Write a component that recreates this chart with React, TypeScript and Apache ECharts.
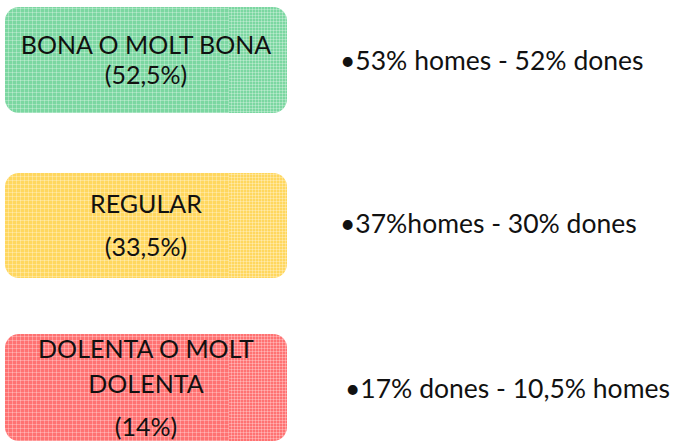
import React, { useEffect, useRef } from "react";
import * as echarts from "echarts";

// ---- data ----
const categories: string[] = ["BONA O MOLT BONA", "REGULAR", "DOLENTA O MOLT DOLENTA"];
const boxLabelLines: string[][] = [
  ["BONA O MOLT BONA"],
  ["REGULAR"],
  ["DOLENTA O MOLT", "DOLENTA"],
];
const shares: number[] = [52.5, 33.5, 14];
const detailTexts: string[] = [
  "•53% homes - 52% dones",
  "•37%homes - 30% dones",
  "•17% dones - 10,5% homes",
];

const fmtPct = (v: number) => "(" + String(v).replace(".", ",") + "%)";

// ---- styles ----
const FONT_FAMILY = "Lato, 'Open Sans', sans-serif";
const baseColors = ["#7bd7a1", "#ffd75e", "#ff7272"];

const TILE = 12;

function makeOverlay(fine: boolean): string {
  const c = document.createElement("canvas");
  c.width = TILE;
  c.height = TILE;
  const ctx = c.getContext("2d")!;
  ctx.clearRect(0, 0, TILE, TILE);
  ctx.fillStyle = "rgba(255,255,255,0.28)";
  const step = fine ? 3 : 4;
  for (let k = 0; k < TILE; k += step) {
    ctx.fillRect(k, 0, 1, TILE);
    ctx.fillRect(0, k, TILE, 1);
  }
  return c.toDataURL();
}

export default function App() {
  const ref = useRef<HTMLDivElement>(null);
  useEffect(() => {
    if (!ref.current) return;
    const chart = echarts.init(ref.current, undefined, { renderer: "svg" });

    const boxLeft = 5;
    const boxRight = 287;
    const splitX = 229;
    const boxTops = [7, 173, 334];
    const boxBottoms = [113, 278, 441];
    const lineBaselines = [
      [52, 82],
      [211, 254],
      [356, 391, 434],
    ];
    const detailX = [340, 340, 345];
    const detailBaselines = [69, 232, 397];
    const boxFont = 25;
    const detailFont = 26.5;
    const coarse = makeOverlay(false);
    const fine = makeOverlay(true);

    const elements: any[] = [];
    categories.forEach((cat, i) => {
      const top = boxTops[i];
      const h = boxBottoms[i] - top;
      elements.push({
        type: "rect",
        shape: { x: boxLeft, y: top, width: boxRight - boxLeft, height: h, r: 14 },
        style: { fill: baseColors[i] },
        silent: true,
      });
      elements.push({
        type: "rect",
        shape: { x: boxLeft, y: top, width: splitX - boxLeft, height: h, r: [14, 0, 0, 14] },
        style: { fill: { image: coarse, repeat: "repeat", imageWidth: TILE, imageHeight: TILE } as any },
        silent: true,
      });
      elements.push({
        type: "rect",
        shape: { x: splitX, y: top, width: boxRight - splitX, height: h, r: [0, 14, 14, 0] },
        style: { fill: { image: fine, repeat: "repeat", imageWidth: TILE, imageHeight: TILE } as any },
        silent: true,
      });
      const lines = [...boxLabelLines[i], fmtPct(shares[i])];
      lines.forEach((t, j) => {
        elements.push({
          type: "text",
          x: (boxLeft + boxRight) / 2,
          y: lineBaselines[i][j] - boxFont * 0.33,
          style: {
            text: t,
            font: `${boxFont}px ${FONT_FAMILY}`,
            fill: "#111111",
            textAlign: "center",
            textVerticalAlign: "middle",
          },
        });
      });
      elements.push({
        type: "text",
        x: detailX[i],
        y: detailBaselines[i] - detailFont * 0.33,
        style: {
          text: detailTexts[i],
          font: `${detailFont}px ${FONT_FAMILY}`,
          fill: "#111111",
          textAlign: "left",
          textVerticalAlign: "middle",
        },
      });
    });

    chart.setOption({
      animation: false,
      backgroundColor: "#ffffff",
      graphic: { elements },
    });
    return () => chart.dispose();
  }, []);
  return <div ref={ref} style={{ width: 673, height: 443, position: "absolute", left: 0, top: 0 }} />;
}
